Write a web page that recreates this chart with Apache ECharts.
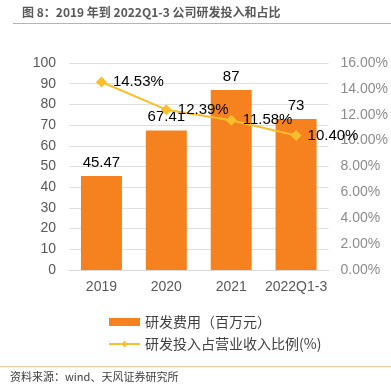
<!DOCTYPE html>
<html><head><meta charset="utf-8">
<script src="https://cdn.jsdelivr.net/npm/echarts@6/dist/echarts.min.js"></script>
<style>html,body{margin:0;padding:0;background:#fff}#c{width:391px;height:390px}</style>
</head><body><div id="c"></div>
<script>
var categories = ['2019', '2020', '2021', '2022Q1-3'];
var rdExpense = [45.47, 67.41, 87, 73];
var rdRatio = [14.53, 12.39, 11.58, 10.40];
var leftTicks = [0, 100, 10];
var rightTicks = [0, 16, 2];

var chart = echarts.init(document.getElementById('c'));
var font = 'Liberation Sans, Arial, Noto Sans CJK SC, sans-serif';
chart.setOption({
  animation: false,
  textStyle: { fontFamily: font },
  graphic: [
    { type: 'text', left: 22, top: 6, style: { text: '图 8：2019 年到 2022Q1-3 公司研发投入和占比', fill: '#595959', font: 'bold 12px "Noto Sans CJK SC", sans-serif' } },
    { type: 'line', shape: { x1: 13, y1: 23.5, x2: 391, y2: 23.5 }, style: { stroke: '#F4A460', lineWidth: 1 } },
    { type: 'line', shape: { x1: 0, y1: 366.5, x2: 391, y2: 366.5 }, style: { stroke: '#F8C8A0', lineWidth: 1 } },
    { type: 'text', left: 10, top: 371, style: { text: '资料来源：wind、天风证券研究所', fill: '#404040', font: '11px "Noto Sans CJK SC", sans-serif' } }
  ],
  grid: { left: 69, right: 58, top: 63, bottom: 120 },
  legend: {
    orient: 'vertical', left: 103, top: 310, itemGap: 8, itemWidth: 31, itemHeight: 8,
    textStyle: { fontSize: 14, color: '#404040', fontFamily: '"Noto Sans CJK SC", sans-serif' },
    data: [
      { name: '研发费用（百万元）', icon: 'rect' },
      { name: '研发投入占营业收入比例(%)' }
    ]
  },
  xAxis: {
    type: 'category', data: categories,
    axisLine: { lineStyle: { color: '#d9d9d9' } }, axisTick: { show: false },
    axisLabel: { fontSize: 14, color: '#595959', margin: 10, interval: 0 }
  },
  yAxis: [
    { type: 'value', min: leftTicks[0], max: leftTicks[1], interval: leftTicks[2],
      axisLine: { show: false }, axisTick: { show: false },
      splitLine: { lineStyle: { color: '#e0e0e0', width: 1 } },
      axisLabel: { fontSize: 14, color: '#595959', margin: 13 } },
    { type: 'value', min: rightTicks[0], max: rightTicks[1], interval: rightTicks[2],
      axisLine: { show: false }, axisTick: { show: false }, splitLine: { show: false },
      axisLabel: { fontSize: 14, color: '#8c8c8c', margin: 12, formatter: function (v) { return v.toFixed(2) + '%'; } } }
  ],
  series: [
    { name: '研发费用（百万元）', type: 'bar', data: rdExpense, barWidth: 41,
      itemStyle: { color: '#F5821F' },
      label: { show: true, position: 'top', fontSize: 15, color: '#000', distance: 6 } },
    { name: '研发投入占营业收入比例(%)', type: 'line', yAxisIndex: 1, data: rdRatio,
      symbol: 'diamond', symbolSize: 11,
      lineStyle: { color: '#F9BE2C', width: 2 }, itemStyle: { color: '#F9BE2C' },
      label: { show: true, position: 'right', fontSize: 15, color: '#000', distance: 6,
        formatter: function (p) { return p.value.toFixed(2) + '%'; } } }
  ]
});
</script></body></html>
